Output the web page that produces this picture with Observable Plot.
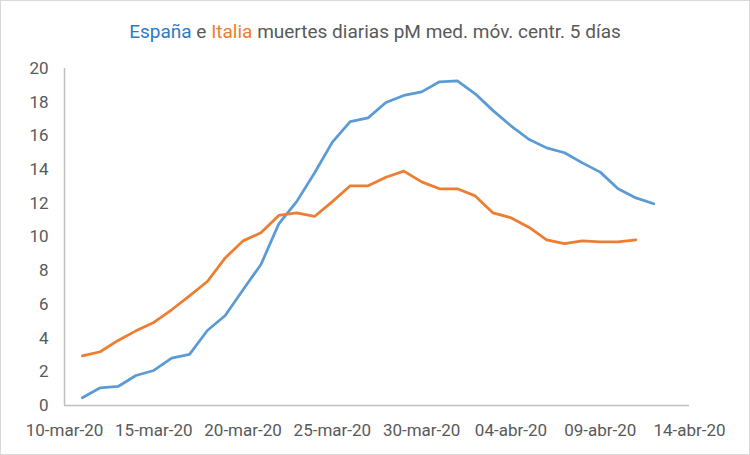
<!DOCTYPE html>
<html>
<head>
<meta charset="utf-8">
<script src="https://cdn.jsdelivr.net/npm/d3@7"></script>
<script src="https://cdn.jsdelivr.net/npm/@observablehq/plot@0.6"></script>
<style>
  html, body { margin: 0; padding: 0; background: #fff; }
  #chart {
    width: 750px; height: 455px; box-sizing: border-box;
    border: 1px solid #d9d9d9; background: #fff; overflow: hidden;
    font-family: Roboto, "Open Sans", sans-serif;
  }
  #title {
    height: 50px; box-sizing: border-box; padding-top: 20px;
    text-align: center; font-size: 19px; color: #595959; line-height: 22px;
    white-space: nowrap;
  }
  #title .es { color: #2a7bc8; }
  #title .it { color: #ed7d31; }
  svg { display: block; }
</style>
</head>
<body>
<div id="chart">
  <div id="title"><span class="es">España</span> e <span class="it">Italia</span> muertes diarias pM med. móv. centr. 5 días</div>
</div>
<script>
const dates = [
  "2020-03-11","2020-03-12","2020-03-13","2020-03-14","2020-03-15","2020-03-16","2020-03-17",
  "2020-03-18","2020-03-19","2020-03-20","2020-03-21","2020-03-22","2020-03-23","2020-03-24",
  "2020-03-25","2020-03-26","2020-03-27","2020-03-28","2020-03-29","2020-03-30","2020-03-31",
  "2020-04-01","2020-04-02","2020-04-03","2020-04-04","2020-04-05","2020-04-06","2020-04-07",
  "2020-04-08","2020-04-09","2020-04-10","2020-04-11","2020-04-12"
];
const spain = [
  0.46, 1.05, 1.13, 1.78, 2.08, 2.81, 3.03, 4.45, 5.34, 6.87, 8.37,
  10.78, 12.1, 13.8, 15.63, 16.85, 17.07, 17.98, 18.40, 18.61, 19.21, 19.27,
  18.50, 17.5, 16.6, 15.8, 15.29, 15.0, 14.40, 13.85, 12.86, 12.32, 11.97
];
const italy = [
  2.95, 3.19, 3.86, 4.43, 4.93, 5.68, 6.51, 7.36, 8.76, 9.77, 10.25,
  11.28, 11.43, 11.22, 12.1, 13.04, 13.04, 13.55, 13.91, 13.27, 12.86, 12.86,
  12.44, 11.43, 11.14, 10.58, 9.83, 9.61, 9.77, 9.71, 9.71, 9.83
];
const xTicks = ["2020-03-10","2020-03-15","2020-03-20","2020-03-25","2020-03-30","2020-04-04","2020-04-09","2020-04-14"];
const xTickLabels = ["10-mar-20","15-mar-20","20-mar-20","25-mar-20","30-mar-20","04-abr-20","09-abr-20","14-abr-20"];
const yTicks = [0, 2, 4, 6, 8, 10, 12, 14, 16, 18, 20];

const parse = d3.utcParse("%Y-%m-%d");
const spainData = spain.map((v, i) => ({date: parse(dates[i]), value: v}));
const italyData = italy.map((v, i) => ({date: parse(dates[i]), value: v}));
const tickDates = xTicks.map(parse);
const labelOf = new Map(tickDates.map((d, i) => [+d, xTickLabels[i]]));

const plot = Plot.plot({
  width: 748,
  height: 403,
  marginTop: 17,
  marginBottom: 49,
  marginLeft: 63,
  marginRight: 60,
  style: {fontFamily: "Roboto, 'Open Sans', sans-serif", fontSize: "17px", color: "#595959", background: "#fff"},
  x: {type: "utc", domain: [tickDates[0], tickDates[tickDates.length - 1]]},
  y: {domain: [0, 20]},
  marks: [
    Plot.axisX({ticks: tickDates, tickFormat: d => labelOf.get(+d), tickSize: 0, tickPadding: 18, label: null, fill: "#595959"}),
    Plot.axisY({ticks: yTicks, tickSize: 0, tickPadding: 16, label: null, fill: "#595959"}),
    Plot.ruleY([0], {stroke: "#bfbfbf", strokeWidth: 1.5}),
    Plot.ruleX([tickDates[0]], {y1: 0, y2: 20, stroke: "#bfbfbf", strokeWidth: 1.5}),
    Plot.line(spainData, {x: "date", y: "value", stroke: "#5b9bd5", strokeWidth: 2.75}),
    Plot.line(italyData, {x: "date", y: "value", stroke: "#ed7d31", strokeWidth: 2.75})
  ]
});
document.getElementById("chart").appendChild(plot);
</script>
</body>
</html>
